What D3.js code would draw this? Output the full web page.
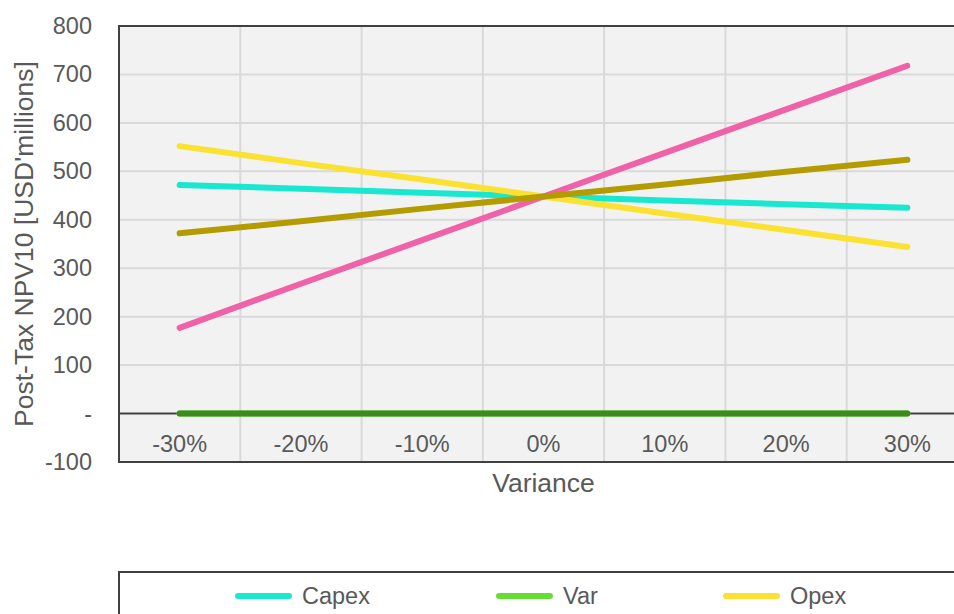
<!DOCTYPE html>
<html>
<head>
<meta charset="utf-8">
<script src="https://cdn.jsdelivr.net/npm/d3@7"></script>
<style>
  html, body { margin: 0; padding: 0; background: #fff; overflow: hidden; }
  svg { display: block; font-family: "Liberation Sans", Arial, sans-serif; }
</style>
</head>
<body>
<svg id="chart" width="954" height="614"></svg>
<script>
// Sensitivity of post-tax NPV10 to each input's variance
const variances = ["-30%", "-20%", "-10%", "0%", "10%", "20%", "30%"];
const capex    = [472, 464, 456, 448, 440, 432, 425];
const varSeries = [0, 0, 0, 0, 0, 0, 0];
const opex     = [552, 517, 483, 448, 413, 379, 344];
const price    = [177, 268, 358, 448, 538, 628, 718];
const grade    = [372, 397, 423, 448, 473, 499, 524];
const recovery = [0, 0, 0, 0, 0, 0, 0];
const yTicks   = [-100, 0, 100, 200, 300, 400, 500, 600, 700, 800];

const series = [
  { name: "Capex",    values: capex,     color: "#19e8d0" },
  { name: "Var",      values: varSeries, color: "#66dd33" },
  { name: "Opex",     values: opex,      color: "#fbe232" },
  { name: "Price",    values: price,     color: "#f062a8" },
  { name: "Grade",    values: grade,     color: "#b49b00" },
  { name: "Recovery", values: recovery,  color: "#3d8a1f" }
];
// only the first legend row fits on the page
const legendSeries = series.slice(0, 3);

const svg = d3.select("#chart");
const plot = { left: 119, top: 26, right: 968, bottom: 462 };
const tickFont = 23.5, titleFont = 26.5, textColor = "#595959";

const x = d3.scaleBand().domain(variances).range([plot.left, plot.right]).padding(0);
const y = d3.scaleLinear().domain([-100, 800]).range([plot.bottom, plot.top]);

// plot background
svg.append("rect")
  .attr("x", plot.left).attr("y", plot.top)
  .attr("width", plot.right - plot.left).attr("height", plot.bottom - plot.top)
  .attr("fill", "#f2f2f2");

// horizontal gridlines
svg.append("g")
  .selectAll("line")
  .data(yTicks.filter(d => d !== -100 && d !== 800 && d !== 0))
  .join("line")
  .attr("x1", plot.left).attr("x2", plot.right)
  .attr("y1", d => y(d)).attr("y2", d => y(d))
  .attr("stroke", "#d9d9d9").attr("stroke-width", 2);

// vertical gridlines between categories
svg.append("g")
  .selectAll("line")
  .data(variances.slice(1))
  .join("line")
  .attr("x1", d => x(d)).attr("x2", d => x(d))
  .attr("y1", plot.top).attr("y2", plot.bottom)
  .attr("stroke", "#d9d9d9").attr("stroke-width", 2);

// frame and zero line
svg.append("rect")
  .attr("x", plot.left).attr("y", plot.top)
  .attr("width", plot.right - plot.left).attr("height", plot.bottom - plot.top)
  .attr("fill", "none").attr("stroke", "#404040").attr("stroke-width", 2);
svg.append("line")
  .attr("x1", plot.left).attr("x2", plot.right)
  .attr("y1", y(0)).attr("y2", y(0))
  .attr("stroke", "#404040").attr("stroke-width", 2);

// y axis labels
const yAxis = d3.axisLeft(y)
  .tickValues(yTicks)
  .tickSize(0)
  .tickPadding(27)
  .tickFormat(d => d === 0 ? "-" : String(d));
svg.append("g")
  .attr("transform", `translate(${plot.left},0)`)
  .call(yAxis)
  .call(g => g.select(".domain").remove())
  .selectAll("text")
  .attr("font-size", tickFont).attr("fill", textColor)
  .attr("font-family", "Liberation Sans, Arial, sans-serif");

// x axis labels sit just under the zero line
const xAxis = d3.axisBottom(x).tickSize(0).tickPadding(22);
svg.append("g")
  .attr("transform", `translate(0,${y(0)})`)
  .call(xAxis)
  .call(g => g.select(".domain").remove())
  .selectAll("text")
  .attr("font-size", tickFont).attr("fill", textColor)
  .attr("font-family", "Liberation Sans, Arial, sans-serif");

// axis titles
svg.append("text")
  .attr("x", x("0%") + x.bandwidth() / 2)
  .attr("y", 492)
  .attr("text-anchor", "middle")
  .attr("font-size", titleFont).attr("fill", textColor)
  .text("Variance");

svg.append("text")
  .attr("transform", `translate(33,${(plot.top + plot.bottom) / 2}) rotate(-90)`)
  .attr("text-anchor", "middle")
  .attr("font-size", titleFont).attr("fill", textColor)
  .text("Post-Tax NPV10 [USD'millions]");

// series lines
const line = d3.line()
  .x((d, i) => x(variances[i]) + x.bandwidth() / 2)
  .y(d => y(d));

svg.append("g")
  .selectAll("path")
  .data(series)
  .join("path")
  .attr("d", s => line(s.values))
  .attr("fill", "none")
  .attr("stroke", s => s.color)
  .attr("stroke-width", 6)
  .attr("stroke-linecap", "round")
  .attr("stroke-linejoin", "round");

// legend box
const legend = svg.append("g");
legend.append("rect")
  .attr("x", plot.left).attr("y", 572)
  .attr("width", 900).attr("height", 80)
  .attr("fill", "#fff").attr("stroke", "#404040").attr("stroke-width", 2);

const legendCols = [236, 497, 724];
const legendItems = legend.selectAll("g.item")
  .data(legendSeries)
  .join("g")
  .attr("class", "item")
  .attr("transform", (s, i) => `translate(${legendCols[i]},596)`);
legendItems.append("line")
  .attr("x1", 2).attr("x2", 53)
  .attr("stroke", s => s.color).attr("stroke-width", 6).attr("stroke-linecap", "round");
legendItems.append("text")
  .attr("x", 66).attr("dy", "0.35em")
  .attr("font-size", tickFont).attr("fill", textColor)
  .text(s => s.name);
</script>
</body>
</html>
